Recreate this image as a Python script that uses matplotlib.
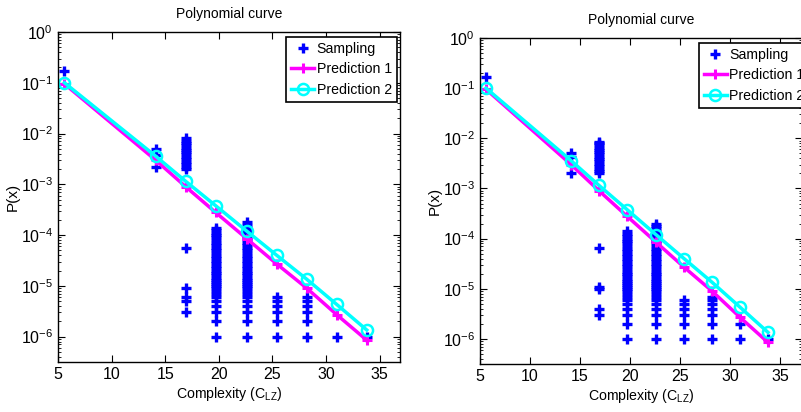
"""
Sampled probabilities vs LZ complexity, two runs side by side.
"""
import numpy as np
import matplotlib
matplotlib.use("Agg")
import matplotlib.pyplot as plt

plt.rcParams['font.family'] = ['Liberation Sans', 'DejaVu Sans']

# complexity values (C_LZ)
clz = [5.6, 14.1, 16.9, 19.7, 22.6, 25.4, 28.2, 31.0, 33.8]

# predicted P(x)
pred1 = [0.095, 3.0e-3, 9.0e-4, 2.8e-4, 8.5e-5, 2.7e-5, 9.0e-6, 2.7e-6, 8.5e-7]
pred2 = [0.10, 3.6e-3, 1.15e-3, 3.8e-4, 1.2e-4, 4.0e-5, 1.35e-5, 4.3e-6, 1.35e-6]

# sampled counts out of 1e6 draws, one list per complexity value
n_samples = 1e6
dense_hi = [1, 2, 3, 4, 5, 6, 7, 8, 9, 10, 11, 12, 13, 14, 16, 18, 20, 22, 25, 28,
            31, 35, 39, 44, 50, 56, 63, 71, 80, 90, 100, 112, 125, 140]
left_counts = [
    [170000],
    [5000, 3800, 2200],
    [2000, 2200, 2500, 2800, 3100, 3500, 3900, 4300, 4800, 5300, 5900, 6500, 7200, 8000,
     55, 9, 6, 5, 3],
    dense_hi,
    dense_hi + [160, 180],
    [1, 2, 3, 4, 5, 6],
    [1, 2, 3, 4, 5, 6],
    [1],
    [1],
]
right_counts = [
    [170000],
    [5000, 4200, 2000],
    [2000, 2200, 2500, 2800, 3100, 3500, 3900, 4300, 4800, 5300, 5900, 6500, 7200, 8000, 8500,
     65, 11, 10, 4, 3],
    dense_hi,
    dense_hi + [160, 180, 200],
    [1, 2, 3, 4, 5, 6],
    [1, 2, 3, 4, 5, 6, 7],
    [1, 2],
    [1],
]


def draw_panel(ax, counts, xmax):
    xs, ps = [], []
    for c, col in zip(clz, counts):
        for k in col:
            xs.append(c)
            ps.append(k / n_samples)
    ax.semilogy(xs, ps, '+', color='#0000ff', ms=7, mew=2.4, ls='none', label='Sampling')
    ax.semilogy(clz, pred1, '-+', color='#ff00ff', lw=2.5, ms=7, mew=2.2, label='Prediction 1')
    ax.semilogy(clz, pred2, '-o', color='#00ffff', lw=2.5, ms=8, mew=1.8,
                mfc='none', label='Prediction 2')
    ax.set_xlim(5, xmax)
    ax.set_ylim(10 ** -6.5, 1)
    ax.set_xticks([5, 10, 15, 20, 25, 30, 35])
    ax.set_yticks([1e0, 1e-1, 1e-2, 1e-3, 1e-4, 1e-5, 1e-6])
    ax.tick_params(which='both', direction='in', top=True, right=True, labelsize=11.5)
    ax.tick_params(which='major', length=5)
    ax.tick_params(which='minor', length=2.5)
    ax.minorticks_on()
    ax.xaxis.set_minor_locator(matplotlib.ticker.NullLocator())
    for s in ax.spines.values():
        s.set_linewidth(1.0)
    ax.set_title('Polynomial curve', fontsize=10, pad=10)
    ax.set_xlabel('Complexity (C$_{\\mathregular{LZ}}$)', fontsize=10.2, labelpad=2)
    ax.set_ylabel('P(x)', fontsize=11, labelpad=1)


fig = plt.figure(figsize=(8.01, 4.12), dpi=100)
W, H = 801.0, 412.0
ax1 = fig.add_axes([58 / W, (H - 362) / H, 342 / W, 330 / H])
ax2 = fig.add_axes([480 / W, (H - 364) / H, 322 / W, 326 / H])

draw_panel(ax1, left_counts, 36.9)
draw_panel(ax2, right_counts, 37.2)

leg_kw = dict(fontsize=10.2, frameon=True, fancybox=False, edgecolor='black',
              framealpha=1, handlelength=1.6, handletextpad=0.2, borderpad=0.35,
              labelspacing=0.45, borderaxespad=0)
l1 = ax1.legend(loc='upper right', bbox_to_anchor=(0.991, 0.985), **leg_kw)
l2 = ax2.legend(loc='upper left', bbox_to_anchor=(0.68, 0.985), **leg_kw)
for lg in (l1, l2):
    lg.get_frame().set_linewidth(1.2)

fig.savefig('out.png', dpi=100)
